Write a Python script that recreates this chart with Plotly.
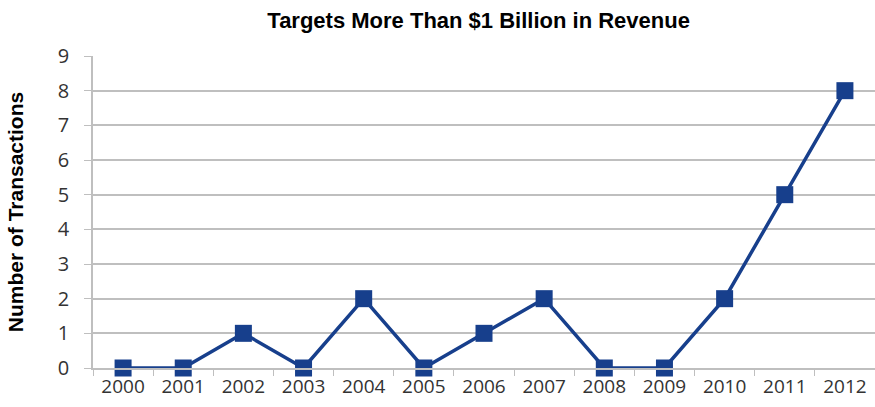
import plotly.graph_objects as go

years = ["2000", "2001", "2002", "2003", "2004", "2005", "2006",
         "2007", "2008", "2009", "2010", "2011", "2012"]
transactions = [0, 0, 1, 0, 2, 0, 1, 2, 0, 0, 2, 5, 8]
y_ticks = list(range(0, 10))

line_color = "#173F8C"
grid_color = "#BFBFBF"

fig = go.Figure(
    go.Scatter(
        x=years,
        y=transactions,
        mode="lines+markers",
        line=dict(color=line_color, width=3.5),
        marker=dict(symbol="square", size=17, color=line_color),
        cliponaxis=False,
    )
)

fig.update_layout(
    width=875,
    height=407,
    margin=dict(l=93, r=0, t=56, b=39),
    paper_bgcolor="white",
    plot_bgcolor="white",
    showlegend=False,
    title=dict(
        text="<b>Targets More Than $1 Billion in Revenue</b>",
        x=0.547,
        xanchor="center",
        y=0.95,
        yanchor="middle",
        font=dict(family="Liberation Sans, Arial", size=22, color="black"),
    ),
    xaxis=dict(
        type="category",
        tickson="boundaries",
        ticks="outside",
        ticklen=6,
        tickcolor=grid_color,
        showgrid=False,
        showline=True,
        linecolor=grid_color,
        linewidth=1.5,
        tickfont=dict(family="Open Sans, Liberation Sans", size=19, color="#333333"),
        range=[-0.5, 12.5],
    ),
    yaxis=dict(
        title=dict(
            text="<b>Number of Transactions</b>",
            font=dict(family="Liberation Sans, Arial", size=21, color="black"),
            standoff=28,
        ),
        range=[0, 9],
        tickvals=y_ticks,
        ticks="outside",
        ticklen=7,
        tickcolor=grid_color,
        ticklabelstandoff=11,
        showgrid=True,
        gridcolor=grid_color,
        gridwidth=1.5,
        showline=True,
        linecolor=grid_color,
        linewidth=1.5,
        zeroline=False,
        tickfont=dict(family="Open Sans, Liberation Sans", size=20, color="#333333"),
    ),
)

fig.write_html("out.html")
